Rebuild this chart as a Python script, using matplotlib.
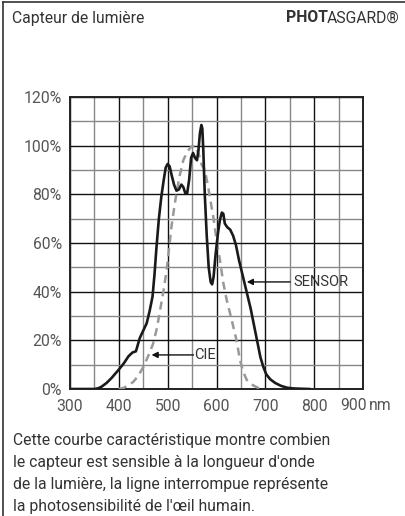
import numpy as np
import matplotlib.pyplot as plt
from matplotlib.ticker import MultipleLocator

plt.rcParams['font.family'] = ['Roboto', 'DejaVu Sans']

# courbe du capteur (nm, %)
sensor_nm = [300, 350, 358, 365, 375, 385, 400, 410, 420, 428, 435, 443, 450, 457,
             463, 469, 473, 477, 482, 487, 492, 496, 500, 504, 508, 513, 518, 523,
             528, 532, 536, 540, 544, 548, 552, 556, 560, 563, 566, 569, 571, 573,
             576, 580, 584, 588, 591, 594, 598, 603, 607, 611, 614, 617, 622, 628,
             634, 640, 646, 652, 658, 664, 670, 677, 684, 690, 696, 702, 710, 720,
             732, 745, 760, 790]
sensor_pct = [0, 0, 0.3, 1, 2.5, 4.5, 8, 10.5, 13.5, 15, 15.5, 21, 24, 27,
              32, 38, 47, 58, 70, 79, 86, 91, 92.5, 91.5, 88, 84, 81.5, 82,
              84, 83, 80.5, 80.5, 86, 95, 97, 95, 94, 98, 105, 108.5, 107, 98,
              80, 63, 50, 44, 43, 46, 55, 64, 69.5, 72.5, 72, 68, 66.5, 65.5,
              63, 59, 53, 48, 43, 38, 33, 26, 19, 13, 9, 6, 4, 2.5,
              1.3, 0.5, 0.2, 0]

# sensibilite de l'oeil (CIE)
cie_nm = [400, 410, 420, 430, 440, 450, 460, 470, 478, 485, 492, 498, 503, 508,
          513, 518, 525, 532, 540, 548, 556, 563, 570, 576, 583, 588, 594, 600,
          607, 614, 621, 631, 641, 648, 652, 657, 662, 668, 675, 685, 696]
cie_pct = [0, 0.5, 1.5, 3, 5.5, 9, 13.5, 18.5, 25, 33, 41, 49, 58, 67,
           74, 80.5, 88, 94, 97.5, 99.5, 100, 97, 92, 90, 83, 77, 70, 61.5,
           53, 43.5, 36.5, 28.5, 20, 12, 9, 6, 3.7, 2.5, 1.5, 0.5, 0]

x_ticks = [300, 400, 500, 600, 700, 800, 900]
x_labels = ['300', '400', '500', '600', '700', '800', '']
y_ticks = [0, 20, 40, 60, 80, 100, 120]
y_labels = ['0%', '20%', '40%', '60%', '80%', '100%', '120%']

txt = '#333333'
lab = '#555555'
fs = 11.3

fig = plt.figure(figsize=(4.06, 5.16), dpi=100)
ax = fig.add_axes([70 / 406, 127 / 516, 293 / 406, 292 / 516])

ax.plot(cie_nm, cie_pct, color='#999999', lw=1.8, ls=(0, (3.2, 2.2)), zorder=3)
ax.plot(sensor_nm, sensor_pct, color='#1a1a1a', lw=1.9, solid_joinstyle='round', zorder=4)

ax.set_xlim(300, 900)
ax.set_ylim(0, 120)
ax.set_xticks(x_ticks)
ax.set_xticklabels(x_labels)
ax.set_yticks(y_ticks)
ax.set_yticklabels(y_labels)
ax.xaxis.set_minor_locator(MultipleLocator(50))
ax.yaxis.set_minor_locator(MultipleLocator(10))
ax.grid(which='major', color='#111111', lw=1.0, zorder=1)
ax.grid(which='minor', color='#888888', lw=1.0, zorder=1)
ax.set_axisbelow(True)
ax.tick_params(which='both', length=0)
ax.tick_params(axis='x', pad=7, labelsize=fs, labelcolor=lab)
ax.tick_params(axis='y', pad=6, labelsize=fs, labelcolor=lab)
for s in ax.spines.values():
    s.set_linewidth(1.4)
    s.set_color('#222222')

# derniere graduation: "900" decale + unite
xlab_y = 1 - 405 / 516
fig.text(367 / 406, xlab_y, '900', fontsize=fs, color=lab, ha='right', va='center')
fig.text(369 / 406, xlab_y, 'nm', fontsize=fs, color=lab, ha='left', va='center')

# annotations
ax.annotate('', xy=(662, 44), xytext=(751, 44),
            arrowprops=dict(arrowstyle='-|>', color='#111111', lw=1.0,
                            mutation_scale=9, shrinkA=0, shrinkB=0))
ax.text(758, 44, 'SENSOR', fontsize=10.5, color=txt, va='center', ha='left')
ax.annotate('', xy=(467, 14), xytext=(553, 14),
            arrowprops=dict(arrowstyle='-|>', color='#111111', lw=1.0,
                            mutation_scale=9, shrinkA=0, shrinkB=0))
ax.text(555, 14, 'CIE', fontsize=10.5, color=txt, va='center', ha='left')

# en-tete
head_y = 1 - 18 / 516
fig.text(12 / 406, head_y, 'Capteur de lumière', fontsize=fs, color=txt,
         va='center', ha='left')
t1 = fig.text(286 / 406, head_y, 'PHOT', fontsize=fs, color=txt,
              va='center', ha='left', fontweight='bold')
r = fig.canvas.get_renderer()
x_right = t1.get_window_extent(r).x1 / fig.bbox.width
fig.text(x_right - 1 / 406, head_y, 'ASGARD®', fontsize=fs, color=txt,
         va='center', ha='left')

desc = ["Cette courbe caractéristique montre combien",
        "le capteur est sensible à la longueur d'onde",
        "de la lumière, la ligne interrompue représente",
        "la photosensibilité de l'œil humain."]
for i, line in enumerate(desc):
    fig.text(13 / 406, 1 - (441 + i * 21.7) / 516, line, fontsize=fs,
             color=txt, va='center', ha='left')

# cadre
fig.add_artist(plt.Line2D([3.5 / 406, 3.5 / 406], [0, 1 - 1.5 / 516],
                          transform=fig.transFigure, color='#333333', lw=1.2))
fig.add_artist(plt.Line2D([3.5 / 406, 1], [1 - 1.5 / 516, 1 - 1.5 / 516],
                          transform=fig.transFigure, color='#333333', lw=1.2))

fig.savefig('out.png', dpi=100)
